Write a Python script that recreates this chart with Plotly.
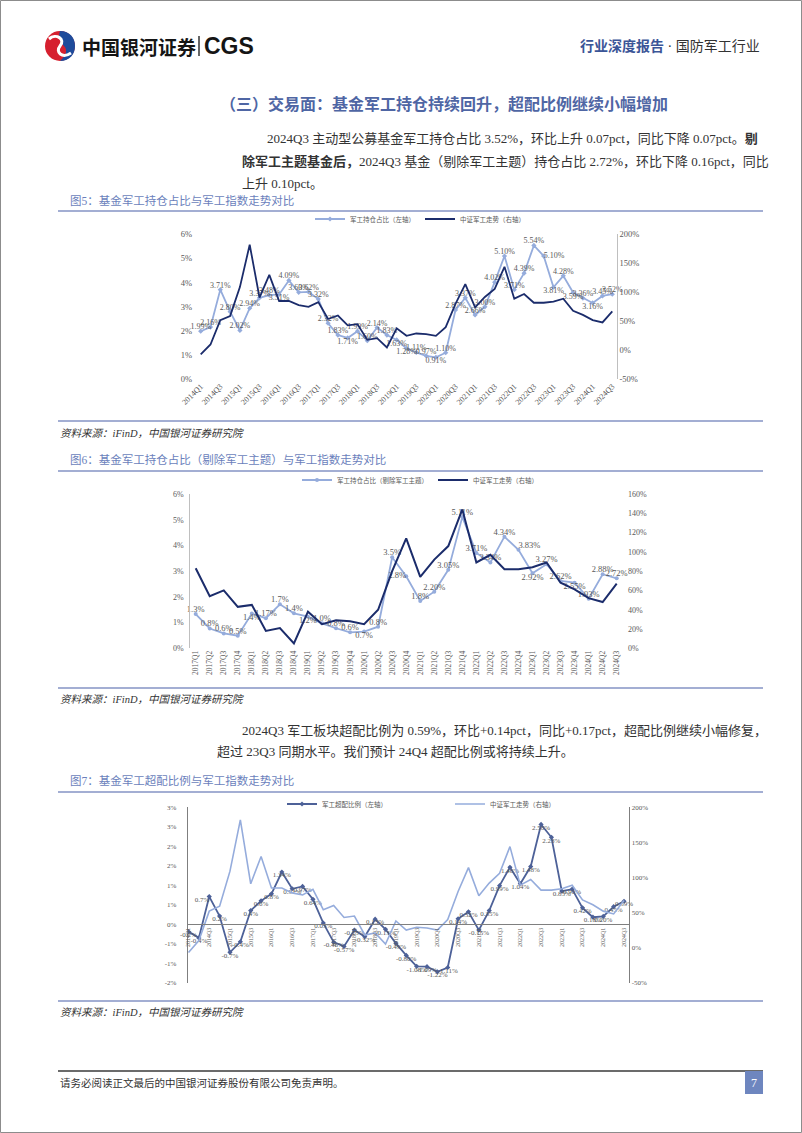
import plotly.graph_objects as go

W, H = 802, 1133

# ---------------- data ----------------
quarters = ["2014Q1","2014Q2","2014Q3","2014Q4","2015Q1","2015Q2","2015Q3","2015Q4",
            "2016Q1","2016Q2","2016Q3","2016Q4","2017Q1","2017Q2","2017Q3","2017Q4",
            "2018Q1","2018Q2","2018Q3","2018Q4","2019Q1","2019Q2","2019Q3","2019Q4",
            "2020Q1","2020Q2","2020Q3","2020Q4","2021Q1","2021Q2","2021Q3","2021Q4",
            "2022Q1","2022Q2","2022Q3","2022Q4","2023Q1","2023Q2","2023Q3","2023Q4",
            "2024Q1","2024Q2","2024Q3"]
quarters_ex = quarters[12:]

# Fig5: fund military holding share (%), left axis
fund_share = [1.99, 2.16, 3.71, 2.80, 2.02, 2.94, 3.37, 3.48, 3.51, 4.09, 3.60, 3.62, 3.32, 2.32,
              1.83, 1.71, 1.99, 1.60, 2.14, 1.83, 1.63, 1.28, 1.11, 0.97, 0.91, 1.10, 2.87, 3.37,
              2.66, 3.00, 4.02, 5.10, 3.71, 4.39, 5.54, 5.10, 3.81, 4.28, 3.59, 3.36, 3.16, 3.45, 3.52]
# CSI military index trend (%), right axis (used by Fig5, Fig6, Fig7)
index_trend = [-7, 10, 52, 59, 109, 182, 91, 130, 85, 85, 78, 75, 83, 54, 60, 43, 45, 18, 21, 5,
               38, 25, 29, 28, 25, 40, 80, 114, 74, 92, 106, 144, 89, 97, 82, 82, 84, 89, 68, 61,
               52, 48, 67]
# Fig6: holding share excluding military-theme funds (%)
fund_share_ex = [1.33, 0.77, 0.58, 0.49, 1.35, 1.17, 1.71, 1.36, 1.23, 0.97, 0.78, 0.62, 0.65, 0.84,
                 3.54, 2.80, 1.84, 2.20, 3.05, 5.11, 3.71, 3.34, 4.34, 3.83, 2.92, 3.27, 2.62, 2.55,
                 1.93, 2.88, 2.72]
labels_ex = ["1.3%","0.8%","0.6%","0.5%","1.4%","1.17%","1.7%","1.4%","1.2%","1.0%","0.8%","0.6%",
             "0.7%","0.8%","3.5%","2.8%","1.8%","2.20%","3.05%","5.11%","3.71%","3.34%","4.34%",
             "3.83%","2.92%","3.27%","2.62%","2.55%","1.93%","2.88%","2.72%"]
# Fig7: overweight ratio (%), left axis
overweight = [-0.19, -0.35, 0.71, 0.21, -0.72, -0.45, 0.35, 0.60, 0.78, 1.34, 0.91, 0.97, 0.64, 0.03,
              -0.46, -0.57, -0.15, -0.32, 0.13, -0.13, -0.49, -0.80, -1.08, -1.09, -1.22, -1.11,
              0.14, 0.32, -0.15, 0.35, 0.99, 1.46, 1.04, 1.48, 2.56, 2.23, 0.85, 0.90, 0.42, 0.18,
              0.20, 0.45, 0.59]
labels_ow = ["-0.2%","-0.4%","0.7%","0.2%","-0.7%","-0.4%","0.4%","0.6%","0.8%","1.34%","0.91%",
             "0.97%","0.64%","0.03%","-0.46%","-0.57%","-0.15%","-0.32%","0.13%","-0.13%","-0.49%",
             "-0.80%","-1.08%","-1.09%","-1.22%","-1.11%","0.14%","0.32%","-0.15%","0.35%","0.99%",
             "1.46%","1.04%","1.48%","2.56%","2.23%","0.85%","0.90%","0.42%","0.18%","0.20%",
             "0.45%","0.59%"]

# label placement
pos1 = ["top center"] * len(fund_share)
for i in (8, 15, 20, 21, 24, 36, 38, 40):
    pos1[i] = "bottom center"
pos1[35] = "middle right"
pos2 = ["top center"] * len(fund_share_ex)
for i in (4, 8, 12, 24, 27):
    pos2[i] = "bottom center"
pos2[15] = "middle left"
pos2[23] = "top right"
pos3 = ["bottom center"] * len(overweight)
pos3[2] = "bottom left"

# ---------------- styles ----------------
SERIF = "Liberation Serif, Noto Sans CJK SC, serif"
CJK = "Liberation Serif, Noto Sans CJK SC, sans-serif"
CJKS = "Noto Sans CJK SC, sans-serif"
LIGHT = "#95ACDC"
DARK = "#1B2C6B"
MID = "#4D6198"
LABEL = "#595959"
AXL = "#BFBFBF"

def X(p):
    return p / W

def Y(p):
    return 1 - p / H

fig = go.Figure()
ia = list(range(len(quarters)))
ib = list(range(len(quarters_ex)))

# ---- Fig5 ----
fig.add_trace(go.Scatter(x=ia, y=fund_share, xaxis="x", yaxis="y", mode="lines+markers",
                         name="军工持仓占比（左轴）", line=dict(color=LIGHT, width=1.8),
                         marker=dict(symbol="diamond", size=4, color=LIGHT), legend="legend"))
fig.add_trace(go.Scatter(x=ia, y=fund_share, xaxis="x", yaxis="y", mode="text",
                         text=[f"{v:.2f}%" for v in fund_share], textposition=pos1,
                         textfont=dict(size=8, color=LABEL, family=SERIF), cliponaxis=False,
                         showlegend=False, hoverinfo="skip"))
fig.add_trace(go.Scatter(x=ia, y=index_trend, xaxis="x", yaxis="y2", mode="lines",
                         name="中证军工走势（右轴）", line=dict(color=DARK, width=1.8), legend="legend"))

# ---- Fig6 ----
fig.add_trace(go.Scatter(x=ib, y=fund_share_ex, xaxis="x2", yaxis="y3", mode="lines+markers",
                         name="军工持仓占比（剔除军工主题）", line=dict(color=LIGHT, width=1.8),
                         marker=dict(symbol="circle", size=4, color=LIGHT), legend="legend2"))
fig.add_trace(go.Scatter(x=ib, y=fund_share_ex, xaxis="x2", yaxis="y3", mode="text",
                         text=labels_ex, textposition=pos2,
                         textfont=dict(size=8.5, color=LABEL, family=SERIF), cliponaxis=False,
                         showlegend=False, hoverinfo="skip"))
fig.add_trace(go.Scatter(x=ib, y=index_trend[12:], xaxis="x2", yaxis="y4", mode="lines",
                         name="中证军工走势（右轴）", line=dict(color=DARK, width=2), legend="legend2"))

# ---- Fig7 ----
fig.add_trace(go.Scatter(x=ia, y=index_trend, xaxis="x3", yaxis="y6", mode="lines",
                         name="中证军工走势（右轴）", line=dict(color=LIGHT, width=1.6),
                         legend="legend3", legendrank=2))
fig.add_trace(go.Scatter(x=ia, y=overweight, xaxis="x3", yaxis="y5", mode="lines+markers",
                         name="军工超配比例（左轴）", line=dict(color=MID, width=1.8),
                         marker=dict(symbol="diamond", size=4, color=MID),
                         legend="legend3", legendrank=1))
fig.add_trace(go.Scatter(x=ia, y=overweight, xaxis="x3", yaxis="y5", mode="text",
                         text=labels_ow, textposition=pos3,
                         textfont=dict(size=7, color=LABEL, family=SERIF), cliponaxis=False,
                         showlegend=False, hoverinfo="skip"))

def tick_font(s):
    return dict(size=s, color=LABEL, family=SERIF)

common = dict(showgrid=False, zeroline=False, fixedrange=True, ticks="", automargin=False)
legfont = dict(size=6.5, color=LABEL, family=CJKS)

layout = dict(
    width=W, height=H, autosize=False,
    margin=dict(l=0, r=0, t=0, b=0, pad=0, autoexpand=False),
    paper_bgcolor="white", plot_bgcolor="rgba(0,0,0,0)",
    font=dict(family=CJK, color="#333333"),
    # Fig5 axes
    xaxis=dict(domain=[X(196), X(616.7)], range=[-0.48, 42.45], anchor="y",
               tickvals=ia[::2], ticktext=quarters[::2], tickangle=-45,
               tickfont=tick_font(8), showline=False, **common),
    yaxis=dict(domain=[Y(379.3), Y(234.3)], range=[0, 6], anchor="free", position=X(192),
               tickvals=[0, 1, 2, 3, 4, 5, 6], ticktext=["0%","1%","2%","3%","4%","5%","6%"],
               tickfont=tick_font(8.5), showline=False, **common),
    yaxis2=dict(overlaying="y", side="right", range=[-50, 200], anchor="free", position=X(616.7),
                tickvals=[-50, 0, 50, 100, 150, 200],
                ticktext=["-50%","0%","50%","100%","150%","200%"],
                tickfont=tick_font(8.5), showline=True, linecolor=AXL, linewidth=1, **common),
    # Fig6 axes
    xaxis2=dict(domain=[X(189.3), X(620)], range=[-0.456, 30.235], anchor="y3",
                tickvals=ib, ticktext=quarters_ex, tickangle=-90,
                tickfont=tick_font(7.5), showline=False, **common),
    yaxis3=dict(domain=[Y(648.3), Y(494)], range=[0, 6], anchor="free", position=X(189.3),
                tickvals=[0, 1, 2, 3, 4, 5, 6], ticktext=["0%","1%","2%","3%","4%","5%","6%"],
                tickfont=tick_font(8), showline=True, linecolor=AXL, linewidth=1,
                ticklabelstandoff=4, **common),
    yaxis4=dict(overlaying="y3", side="right", range=[0, 160], anchor="free", position=X(627),
                tickvals=[0, 20, 40, 60, 80, 100, 120, 140, 160],
                ticktext=["0%","20%","40%","60%","80%","100%","120%","140%","160%"],
                tickfont=tick_font(8), showline=False, **common),
    # Fig7 axes
    xaxis3=dict(domain=[X(186.7), X(629.3)], range=[-0.174, 42.51], anchor="free",
                position=Y(924.3), tickvals=ia[::2], ticktext=quarters[::2], tickangle=-90,
                tickfont=tick_font(6), showline=True, linecolor="#7F7F7F", linewidth=1, **common),
    yaxis5=dict(domain=[Y(982.7), Y(807.3)], range=[-1.5, 3.0], anchor="free", position=X(186.7),
                tickvals=[-1.5, -1.0, -0.5, 0, 0.5, 1.0, 1.5, 2.0, 2.5, 3.0],
                ticktext=["-2%","-1%","-1%","0%","1%","1%","2%","2%","3%","3%"],
                tickfont=tick_font(7), showline=True, linecolor="#7F7F7F", linewidth=1,
                ticklabelstandoff=9, **common),
    yaxis6=dict(overlaying="y5", side="right", range=[-50, 200], anchor="free", position=X(629.3),
                tickvals=[-50, 0, 50, 100, 150, 200],
                ticktext=["-50%","0%","50%","100%","150%","200%"],
                tickfont=tick_font(7), showline=True, linecolor="#7F7F7F", linewidth=1, **common),
    # full-page pixel canvas for decorations
    xaxis4=dict(domain=[0, 1], range=[0, W], anchor="y7", visible=False, fixedrange=True),
    yaxis7=dict(domain=[0, 1], range=[H, 0], anchor="x4", visible=False, fixedrange=True),
    legend=dict(x=X(310), y=Y(219), xanchor="left", yanchor="middle", orientation="h",
                font=legfont, bgcolor="rgba(0,0,0,0)", itemwidth=30, tracegroupgap=0),
    legend2=dict(x=X(297), y=Y(480), xanchor="left", yanchor="middle", orientation="h",
                 font=legfont, bgcolor="rgba(0,0,0,0)", itemwidth=30, tracegroupgap=0),
    legend3=dict(x=X(282), y=Y(804), xanchor="left", yanchor="middle", orientation="h",
                 font=legfont, bgcolor="rgba(0,0,0,0)", itemwidth=30, tracegroupgap=0,
                 entrywidth=123, traceorder="normal"),
    showlegend=True,
)
fig.update_layout(**layout)

# ---------------- decorations ----------------
shapes = []
def hline(y, x0=58, x1=763, color="#A3AED3", width=2):
    shapes.append(dict(type="line", xref="x4", yref="y7", x0=x0, x1=x1, y0=y, y1=y,
                       line=dict(color=color, width=width)))

for yy in (211, 421, 471, 688, 792, 1001):
    hline(yy)
hline(1071, color="#3A3A3A", width=1.3)

# page border
shapes.append(dict(type="rect", xref="x4", yref="y7", x0=0.5, x1=801.5, y0=0.5, y1=1132.5,
                   line=dict(color="#8C8C8C", width=1)))
# page number box
shapes.append(dict(type="rect", xref="x4", yref="y7", x0=745, x1=763, y0=1071, y1=1094,
                   fillcolor="#6E86BF", line=dict(width=0)))
# logo
shapes.append(dict(type="circle", xref="x4", yref="y7", x0=45, x1=75, y0=31, y1=61,
                   fillcolor="#D6202F", line=dict(width=0)))
shapes.append(dict(type="path", xref="x4", yref="y7",
                   path="M 60,31 C 70,31 75,38 75,46 C 75,54 70,61 60,61 C 66,56 68,50 64,46 "
                        "C 60,42 58,36 60,31 Z",
                   fillcolor="#1E4B9B", line=dict(width=0)))
shapes.append(dict(type="path", xref="x4", yref="y7",
                   path="M 49,39 C 56,33 66,39 60,46 C 55,52 62,59 71,53",
                   line=dict(color="white", width=3)))
shapes.append(dict(type="line", xref="x4", yref="y7", x0=199, x1=199, y0=36, y1=56,
                   line=dict(color="#333333", width=1.5)))
fig.update_layout(shapes=shapes)

anns = []
def text(x, y, s, size, color="#333333", family=CJK, xanchor="left"):
    anns.append(dict(xref="x4", yref="y7", x=x, y=y, text=s, showarrow=False,
                     xanchor=xanchor, yanchor="middle",
                     font=dict(size=size, color=color, family=family)))

text(80, 46, "<b>中国银河证券</b>", 19, "#151515", CJKS)
text(202, 46, "<b>CGS</b>", 23, "#151515", "Liberation Sans, Arial, sans-serif")
text(762, 46, "<b><span style='color:#3B5597'>行业深度报告</span></b> · 国防军工行业", 14,
     "#333333", CJK, xanchor="right")
text(218, 104, "<b>（三）交易面：基金军工持仓持续回升，超配比例继续小幅增加</b>", 16, "#4F66A4", CJK)

text(265, 138, "2024Q3 主动型公募基金军工持仓占比 3.52%，环比上升 0.07pct，同比下降 0.07pct。<b>剔</b>", 13)
text(240, 161, "<b>除军工主题基金后，</b>2024Q3 基金（剔除军工主题）持仓占比 2.72%，环比下降 0.16pct，同比", 13)
text(240, 183, "上升 0.10pct。", 13)

text(68, 200, "图5：基金军工持仓占比与军工指数走势对比", 11.5, "#6B7FBC")
text(58, 433, "<i>资料来源：iFinD，中国银河证券研究院</i>", 10.5, "#333333")
text(68, 459, "图6：基金军工持仓占比（剔除军工主题）与军工指数走势对比", 11.5, "#6B7FBC")
text(58, 699, "<i>资料来源：iFinD，中国银河证券研究院</i>", 10.5, "#333333")

text(240, 730, "2024Q3 军工板块超配比例为 0.59%，环比+0.14pct，同比+0.17pct，超配比例继续小幅修复，", 13)
text(215, 751, "超过 23Q3 同期水平。我们预计 24Q4 超配比例或将持续上升。", 13)

text(68, 780, "图7：基金军工超配比例与军工指数走势对比", 11.5, "#6B7FBC")
text(58, 1012, "<i>资料来源：iFinD，中国银河证券研究院</i>", 10.5, "#333333")

text(58, 1083, "请务必阅读正文最后的中国银河证券股份有限公司免责声明。", 10.5, "#333333")
text(754, 1083, "7", 12, "white", SERIF, xanchor="center")

fig.update_layout(annotations=anns)

fig.write_html("out.html", config={"displayModeBar": False},
               post_script="document.body.style.margin='0px';document.body.style.padding='0px';")
